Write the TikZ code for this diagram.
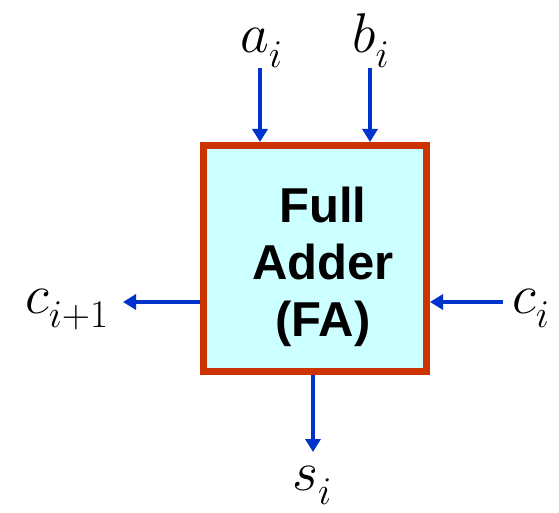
\documentclass[tikz,border=0pt]{standalone}
\usepackage{fix-cm}
\usepackage{fontspec}
\usepackage{amsmath}
\usepackage{tikz}
\usetikzlibrary{arrows.meta, positioning}
\newfontfamily\boxfont{Liberation Sans}
\definecolor{faborder}{HTML}{CC3300}
\definecolor{fafill}{HTML}{CCFFFF}
\definecolor{sigblue}{HTML}{0033CC}
\newcommand\lowsub[1]{_{\lower6pt\hbox{$\scriptstyle #1$}}}

\begin{document}
\begin{tikzpicture}[
  x=1pt, y=1pt,
  every node/.style={inner sep=0pt},
  fabox/.style={draw=faborder, line width=7pt, fill=fafill,
                minimum width=223pt, minimum height=226pt},
  fatext/.style={font=\boxfont\bfseries\fontsize{49}{57}\selectfont,
                 align=center},
  sig/.style={font=\fontsize{56}{60}\selectfont, anchor=base west},
  arr/.style={-{Triangle[length=13pt, width=15pt]}, line width=3.3pt,
              draw=sigblue}
]
  \useasboundingbox (0,0) rectangle (559,512);

  % the block
  \node[fabox] (fa) at (315,253.5) {};
  \node[fatext, anchor=north] (falbl) at (323,325) {Full\\Adder\\(FA)};

  % signal names
  \node[sig] (ai) at (240,459) {$a\lowsub{i}$};
  \node[sig] (bi) at (352,459) {$b\lowsub{i}$};
  \node[sig] (cout) at (25,199) {$c\lowsub{i+1}$};
  \node[sig] (cin) at (512,199) {$c\lowsub{i}$};
  \node[sig] (si) at (292,22) {$s\lowsub{i}$};

  % arrow ends next to the names
  \coordinate (ain) at (260,444);
  \coordinate (bin) at (370,444);
  \coordinate (cinend) at (503,210);
  \coordinate (coutend) at (123,210);
  \coordinate (sout) at (313,60);

  \draw[arr] (ain) -- (ain |- fa.north);
  \draw[arr] (bin) -- (bin |- fa.north);
  \draw[arr] (cinend) -- (cinend -| fa.east);
  \draw[arr] (coutend -| fa.west) -- (coutend);
  \draw[arr] (sout |- fa.south) -- (sout);
\end{tikzpicture}
\end{document}
